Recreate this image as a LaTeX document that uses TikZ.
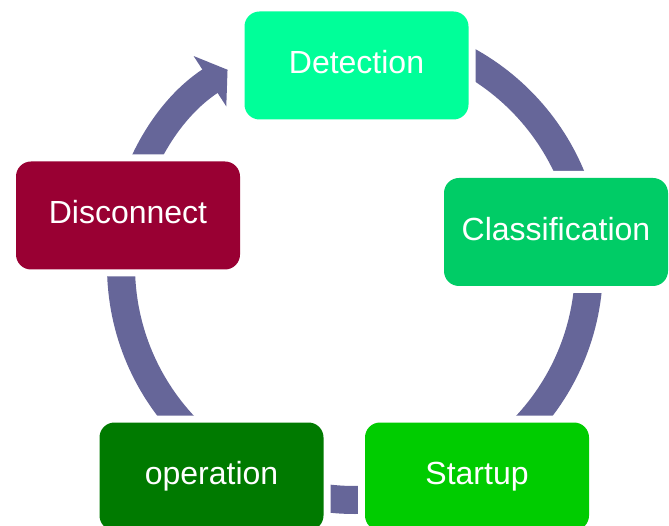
\documentclass[tikz,border=0pt]{standalone}
\usepackage{fontspec}
\setmainfont{Liberation Sans}
\usetikzlibrary{arrows.meta}
\definecolor{ringgray}{HTML}{666699}
\definecolor{detectgreen}{HTML}{00FF99}
\definecolor{classgreen}{HTML}{00CC66}
\definecolor{startgreen}{HTML}{00CC00}
\definecolor{opgreen}{HTML}{007A00}
\definecolor{discred}{HTML}{990033}
\tikzset{x=1pt, y=1pt, % one unit is one pixel of the picture
      stage/.style={ % Sets the properties for each box of the cycle
      rectangle,
      rounded corners=15pt,
      minimum width=224pt, minimum height=108pt,
      inner sep=0pt,
      text=white,
      font=\fontsize{32}{38}\selectfont,
      text height=22pt, text depth=5.5pt,
      preaction={draw=white, line width=14pt}}, % White margin that cuts the ring
      ring/.style={ % The circular arrow behind the boxes
      draw=ringgray,
      line width=28pt}}

\begin{document}
\begin{tikzpicture}
      \useasboundingbox (0,0) rectangle (669,525);
      \coordinate (hub) at (355,259);
      \draw[ring, -{Triangle[width=59pt, length=21pt]}] (hub) ++(90:234) arc[start angle=90, end angle=-237, radius=234];
      \node[stage, fill=detectgreen] (detect) at (356.5,459.5) {Detection};
      \node[stage, fill=classgreen] (classify) at (556,293) {Classification};
      \node[stage, fill=startgreen] (startup) at (477,48.5) {Startup};
      \node[stage, fill=opgreen] (operate) at (211.5,48.5) {operation};
      \node[stage, fill=discred] (disconnect) at (128,309.5) {Disconnect};
\end{tikzpicture}
\end{document}
